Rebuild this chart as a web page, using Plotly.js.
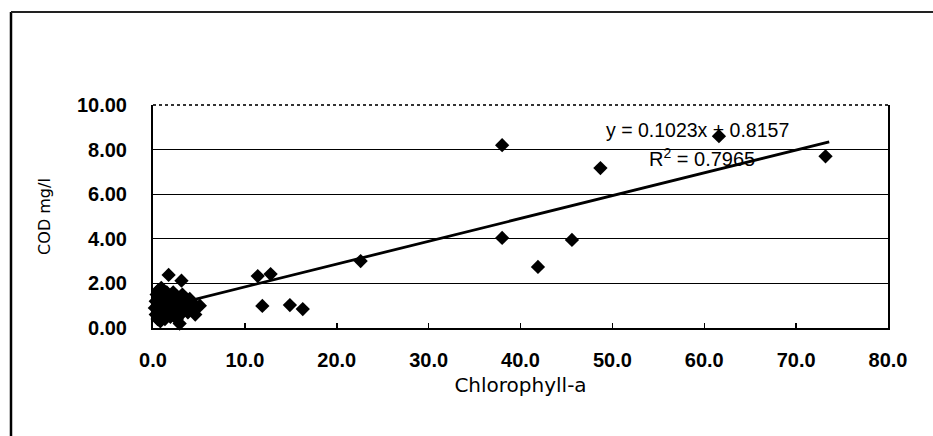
<!DOCTYPE html>
<html>
<head>
<meta charset="utf-8">
<script src="https://cdn.plot.ly/plotly-3.0.1.min.js"></script>
<style>
  html, body { margin: 0; padding: 0; background: #fff; }
  #chart { width: 933px; height: 436px; }
</style>
</head>
<body>
<div id="chart"></div>
<script>
// Observed data (Chlorophyll-a vs COD mg/l)
const chlorophyll = [
  0.2, 0.3, 0.3, 0.4, 0.5, 0.5, 0.6, 0.7, 0.8, 0.8, 0.9, 1.0, 1.0, 1.1, 1.2,
  1.3, 1.4, 1.5, 1.6, 1.7, 1.8, 1.9, 2.0, 2.1, 2.2, 2.3, 2.4, 2.5, 2.6, 2.7,
  2.8, 2.9, 3.0, 3.1, 3.2, 3.4, 3.6, 3.8, 4.0, 4.2, 4.4, 4.6, 5.1,
  1.7, 3.1,
  11.4, 12.8, 11.9, 14.9, 16.3, 22.6,
  38.0, 38.0, 41.9, 45.6, 48.7, 61.6, 73.2
];
const cod = [
  0.9, 1.2, 0.6, 1.5, 0.4, 1.0, 1.7, 0.8, 1.3, 0.3, 1.8, 0.6, 1.1, 1.5, 0.9,
  0.4, 1.2, 1.6, 0.7, 1.0, 1.4, 0.5, 1.2, 0.9, 1.6, 0.7, 1.1, 1.4, 0.4, 0.9,
  1.2, 0.2, 0.6, 1.0, 1.5, 0.8, 1.2, 0.7, 1.3, 0.9, 1.1, 0.6, 1.0,
  2.38, 2.12,
  2.33, 2.42, 0.99, 1.03, 0.85, 3.0,
  8.2, 4.04, 2.74, 3.95, 7.17, 8.6, 7.7
];
// Linear trendline end points (as drawn on the chart)
const trendX = [0.2, 73.6];
const trendY = [0.84, 8.35];
const xTicks = [0, 10, 20, 30, 40, 50, 60, 70, 80];
const xTickText = ['0.0', '10.0', '20.0', '30.0', '40.0', '50.0', '60.0', '70.0', '80.0'];
const yTicks = [0, 2, 4, 6, 8, 10];
const yTickText = ['0.00', '2.00', '4.00', '6.00', '8.00', '10.00'];
const eqText = 'y = 0.1023x + 0.8157';
const r2Text = 'R<sup>2</sup> = 0.7965';

const tickFont = { family: 'Liberation Sans, Arial, sans-serif', size: 20, color: '#000', weight: 'bold' };

const traces = [
  {
    x: chlorophyll, y: cod, type: 'scatter', mode: 'markers',
    marker: { symbol: 'diamond', size: 11, color: '#000' },
    showlegend: false, hoverinfo: 'x+y', cliponaxis: false
  },
  {
    x: trendX, y: trendY, type: 'scatter', mode: 'lines',
    line: { color: '#000', width: 2.8 },
    showlegend: false, hoverinfo: 'skip'
  }
];

const layout = {
  width: 933, height: 436,
  margin: { l: 153, r: 45, t: 105, b: 108 },
  paper_bgcolor: '#fff', plot_bgcolor: '#fff',
  showlegend: false,
  xaxis: {
    range: [0, 80], tickvals: xTicks, ticktext: xTickText,
    showgrid: false, zeroline: false,
    showline: true, linecolor: '#000', linewidth: 2,
    ticks: 'inside', ticklen: 5, tickwidth: 1.5, tickcolor: '#000',
    tickfont: tickFont, ticklabelstandoff: 13,
    title: { text: 'Chlorophyll-a', font: { family: 'DejaVu Sans, sans-serif', size: 20, color: '#000' }, standoff: 8 }
  },
  yaxis: {
    range: [0, 10], tickvals: yTicks, ticktext: yTickText,
    showgrid: true, gridcolor: '#000', gridwidth: 1.2,
    zeroline: false,
    showline: true, mirror: true, linecolor: '#000', linewidth: 2,
    ticks: '', tickfont: tickFont, ticklabelstandoff: 20,
    title: { text: 'COD mg/l', font: { family: 'DejaVu Sans, sans-serif', size: 16, color: '#000' }, standoff: 22 }
  },
  annotations: [
    { xref: 'x', yref: 'y', x: 59.3, y: 8.9, text: eqText, showarrow: false,
      font: { family: 'Liberation Sans, Arial, sans-serif', size: 19.5, color: '#000' } },
    { xref: 'x', yref: 'y', x: 59.8, y: 7.65, text: r2Text, showarrow: false,
      font: { family: 'Liberation Sans, Arial, sans-serif', size: 20, color: '#000' } }
  ],
  shapes: [
    // top border of the plot area (dotted in the scan)
    { type: 'line', xref: 'paper', yref: 'paper', x0: 0, x1: 1, y0: 1, y1: 1,
      line: { color: '#333', width: 2, dash: 'dot' }, layer: 'above' },
    // outer chart frame (left and top edges visible)
    { type: 'line', xref: 'paper', yref: 'paper', x0: -0.1932, x1: -0.1932, y0: -0.6, y1: 1.417,
      line: { color: '#000', width: 2.5 } },
    { type: 'line', xref: 'paper', yref: 'paper', x0: -0.1932, x1: 1.2, y0: 1.417, y1: 1.417,
      line: { color: '#222', width: 1.8 } }
  ]
};

Plotly.newPlot('chart', traces, layout, { displayModeBar: false, staticPlot: true });
</script>
</body>
</html>
